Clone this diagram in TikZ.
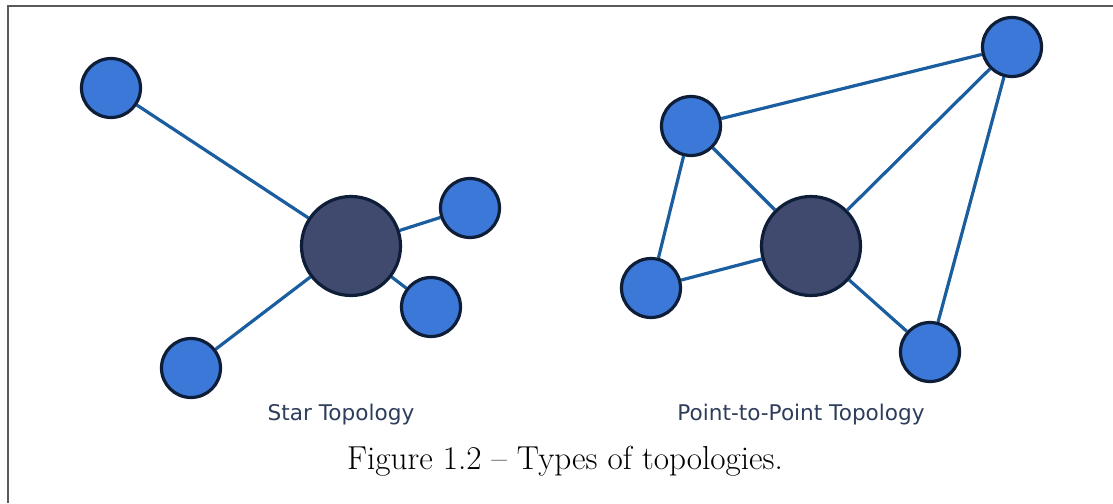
\documentclass[tikz,border=0pt]{standalone}
\usepackage{fontspec}
\usepackage{xcolor}
\usepackage{tikz}
\usetikzlibrary{backgrounds}
\newfontfamily\topofont{DejaVu Sans}

\definecolor{leafblue}{HTML}{3B78D8}
\definecolor{hubnavy}{HTML}{3F4A6E}
\definecolor{rimnavy}{HTML}{0F1E38}
\definecolor{linkblue}{HTML}{1B5E9F}
\definecolor{labelgray}{HTML}{2E3D5C}

\tikzset{
    leaf/.style={circle, draw=rimnavy, fill=leafblue, line width=1.6pt, inner sep=0pt, minimum size=29.5pt},
    hub/.style={circle, draw=rimnavy, fill=hubnavy, line width=1.6pt, inner sep=0pt, minimum size=49.5pt},
    link/.style={draw=linkblue, line width=1.6pt},
    toplabel/.style={font=\topofont\fontsize{10.8}{12}\selectfont, text=labelgray}
}

\begin{document}
\begin{tikzpicture}[x=0.5pt, y=-0.5pt]
    \useasboundingbox (0,0) rectangle (1113,503);
    \draw[line width=1pt, black!65] (1113,6) -- (8,6) -- (8,503);

    % star
    \node[hub] (S0) at (351,246) {};
    \node[leaf] (S1) at (111,88) {};
    \node[leaf] (S2) at (470,208) {};
    \node[leaf] (S3) at (431,307) {};
    \node[leaf] (S4) at (191,368) {};

    % point to point
    \node[hub] (P0) at (811,246) {};
    \node[leaf] (P1) at (691,126) {};
    \node[leaf] (P2) at (651,288) {};
    \node[leaf] (P3) at (930,352) {};
    \node[leaf] (P4) at (1012,47) {};

    \begin{pgfonlayer}{background}
        \foreach \n in {S1,S2,S3,S4}
            \draw[link] (S0) -- (\n);
        \foreach \a/\b in {P1/P4, P1/P0, P1/P2, P2/P0, P0/P4, P0/P3, P3/P4}
            \draw[link] (\a) -- (\b);
    \end{pgfonlayer}

    \node[toplabel] (LS) at (341,415) {Star Topology};
    \node[toplabel] (LP) at (801,415) {Point-to-Point Topology};

    \node[font=\fontsize{16.6}{19}\selectfont] (CAP) at (565,461) {Figure 1.2 -- Types of topologies.};
\end{tikzpicture}
\end{document}
